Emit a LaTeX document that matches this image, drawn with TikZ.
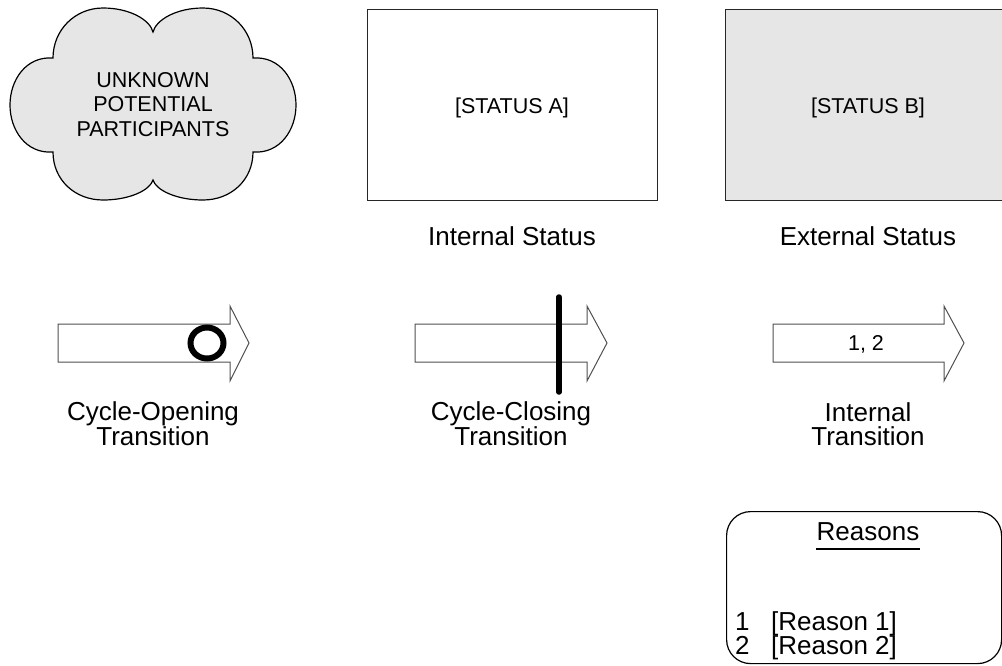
\documentclass[tikz,border=0pt]{standalone}
\usepackage{fontspec}
\setmainfont{Liberation Sans}
\definecolor{boxgray}{HTML}{E6E6E6}
\definecolor{edgegray}{HTML}{505050}
\begin{document}
\begin{tikzpicture}[x=1pt,y=-1pt,
  lbl/.style={font=\fontsize{26}{23.5}\selectfont, align=center, inner sep=0pt},
  txt/.style={font=\fontsize{21.5}{24.5}\selectfont, align=center, inner sep=0pt},
  statusbox/.style={draw=black!85, line width=1.2pt, minimum width=290pt, minimum height=191pt, inner sep=0pt, anchor=north west},
  arrowshape/.style={draw=edgegray, fill=white, line width=1pt, line join=miter},
]
\useasboundingbox (0,0) rectangle (1002,665);

% cloud
\draw[fill=boxgray, draw=black, line width=1.2pt]
  (53,58) .. controls (53,30) and (75,8) .. (103,8)
  .. controls (130,8) and (150,20) .. (153,32)
  .. controls (156,20) and (176,8) .. (203,8)
  .. controls (231,8) and (253,30) .. (253,58)
  .. controls (280,56) and (296,80) .. (296,105)
  .. controls (296,130) and (280,154) .. (253,152)
  .. controls (253,180) and (231,200) .. (203,200)
  .. controls (176,200) and (156,190) .. (153,180)
  .. controls (150,190) and (130,200) .. (103,200)
  .. controls (75,200) and (53,180) .. (53,152)
  .. controls (26,154) and (10,130) .. (10,105)
  .. controls (10,80) and (26,56) .. (53,58) -- cycle;
\node[txt] (cloudtxt) at (153,104.5) {UNKNOWN\\POTENTIAL\\PARTICIPANTS};

% status boxes
\node[statusbox, fill=white] (statA) at (367,9) {};
\node[txt, anchor=base] (statAtxt) at (512,113) {[STATUS A]};
\node[statusbox, fill=boxgray, minimum width=282pt] (statB) at (725,9) {};
\node[txt, anchor=base] (statBtxt) at (868,113) {[STATUS B]};
\node[lbl, anchor=base] (lblA) at (512,245) {Internal Status};
\node[lbl, anchor=base] (lblB) at (868,245) {External Status};

% transition arrows
\draw[arrowshape] (58,324) -- (230,324) -- (230,306) -- (249,343) -- (230,381) -- (230,362) -- (58,362) -- cycle;
\draw[line width=6pt] (207,343) ellipse [x radius=16.5pt, y radius=15.5pt];
\draw[arrowshape] (415,324) -- (587,324) -- (587,306) -- (607,343) -- (587,381) -- (587,362) -- (415,362) -- cycle;
\draw[line width=5.5pt, line cap=round] (559,297) -- (559,392);
\draw[arrowshape] (773,324) -- (944,324) -- (944,306) -- (964,343) -- (944,381) -- (944,362) -- (773,362) -- cycle;
\node[txt, anchor=base] (nums) at (866,350) {1, 2};

\node[lbl] (lblOpen) at (153,424) {Cycle-Opening\\Transition};
\node[lbl] (lblClose) at (511,424) {Cycle-Closing\\Transition};
\node[lbl] (lblInt) at (868,424) {Internal\\Transition};

% reasons box
\node[draw=black, line width=1.2pt, rounded corners=24pt, minimum width=275pt, minimum height=152pt, inner sep=0pt, anchor=north west] (reasons) at (726,511) {};
\node[lbl, anchor=base] (rtitle) at (868,540) {Reasons};
\draw[line width=1.5pt] ([yshift=-9pt]rtitle.base west) -- ([yshift=-9pt]rtitle.base east);
\node[lbl, anchor=base west] (r1n) at (735,630) {1};
\node[lbl, anchor=base west] (r1t) at (771,630) {[Reason 1]};
\node[lbl, anchor=base west] (r2n) at (735,654) {2};
\node[lbl, anchor=base west] (r2t) at (771,654) {[Reason 2]};
\end{tikzpicture}
\end{document}
